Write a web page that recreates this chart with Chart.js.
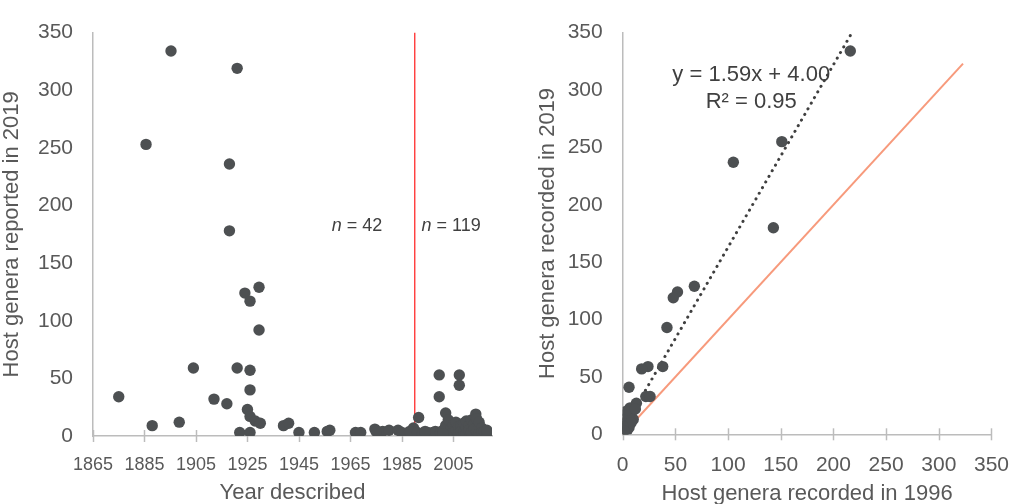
<!DOCTYPE html>
<html>
<head>
<meta charset="utf-8">
<script src="https://cdn.jsdelivr.net/npm/chart.js@4.4.1/dist/chart.umd.min.js"></script>
<style>
  body { margin: 0; background: #fff; }
  canvas { position: absolute; top: 0; }
  #left { left: 0; }
  #right { left: 515px; }
</style>
</head>
<body>
<canvas id="left" width="515" height="504"></canvas>
<canvas id="right" width="512" height="504"></canvas>
<script>
// left panel: year described vs host genera in 2019
const yearDescribed = [
  1875, 1885.6, 1888, 1895.3, 1898.5, 1904, 1912, 1917, 1918, 1918,
  1921, 1921, 1922, 1924, 1926, 1929.5, 1929.5, 1926, 1926, 1925,
  1926, 1928, 1930, 1926, 1939, 1941, 1945, 1951, 1956, 1957,
  1967, 1969, 1974.5, 1976.5, 1977.5, 1980, 1983.5, 1985, 1989.5, 1989.5,
  1988, 1975,
  1991.5, 1991, 1993, 1995, 1996, 1997, 1998, 1999.5, 1999.5, 2000,
  2001, 2002, 2002, 2003, 2003, 2004, 2004, 2005, 2005, 2006,
  2006, 2007.3, 2007.3, 2007, 2007, 2008, 2008, 2009, 2009, 2010,
  2010, 2010, 2011, 2011, 2012, 2012, 2013, 2013.7, 2013, 2014,
  2014, 2015, 2015, 2016, 2016, 2017, 2018, 2018, 2001, 1994
];
const hostsReported2019 = [
  34, 253, 9, 334, 12, 59, 32, 28, 236, 178,
  319, 59, 3, 124, 117, 129, 92, 57, 40, 23,
  17, 13, 11, 3, 9, 11, 3, 3, 4, 5,
  3, 3, 6, 3, 4, 5, 5, 3, 7, 3,
  4, 4,
  16, 3, 2, 3, 2, 3, 4, 53, 34, 3,
  5, 20, 9, 14, 3, 6, 2, 10, 3, 5,
  12, 53, 44, 8, 2, 9, 4, 11, 3, 7,
  13, 2, 9, 5, 14, 3, 10, 19, 6, 15,
  4, 12, 2, 7, 3, 4, 2, 5, 2, 4
];
const boundaryYear = 1990;
const yearTicks = [1865, 1885, 1905, 1925, 1945, 1965, 1985, 2005];
const countNotes = [
  { x: 1957.7, y: 182, n: '42' },
  { x: 1992.6, y: 182, n: '119' }
];

// right panel: 1996 vs 2019 host genera
const hosts1996 = [
  216, 151, 105, 143, 68, 52, 48, 42, 38, 24,
  18, 6, 22, 26, 13, 7, 2, 8, 10, 1,
  1, 0, 0, 2, 3, 4, 5, 6, 3, 0,
  1, 2, 4, 6, 8, 12, 0, 1
];
const hosts2019 = [
  334, 255, 237, 180, 129, 124, 119, 93, 59, 59,
  57, 41, 33, 33, 27, 23, 17, 17, 13, 10,
  5, 2, 0, 7, 4, 11, 8, 14, 20, 13,
  1, 9, 3, 6, 10, 22, 7, 3
];
const trendX = [0, 218];
const trendY = [4, 350.6];
const equalX = [0, 323];
const equalY = [0, 323];
const valueTicks = [0, 50, 100, 150, 200, 250, 300, 350];

const FONT = "'Liberation Sans', Arial, sans-serif";
const TXT = '#595959';
const AXIS = '#bcbcbc';
const DOT = '#4d5052';

const pts = (xs, ys) => xs.map((x, i) => ({ x, y: ys[i] }));

// Excel style tick marks crossing the x axis
const crossTicks = {
  id: 'crossTicks',
  beforeDatasetsDraw(chart) {
    const { ctx, scales: { x } } = chart;
    const y0 = chart.chartArea.bottom;
    ctx.save();
    ctx.strokeStyle = AXIS;
    ctx.lineWidth = 1.5;
    for (const t of x.ticks) {
      const px = Math.round(x.getPixelForValue(t.value)) + 0.5;
      ctx.beginPath();
      ctx.moveTo(px, y0 - 6);
      ctx.lineTo(px, y0 + 6);
      ctx.stroke();
    }
    ctx.restore();
  }
};

const notes = {
  id: 'notes',
  afterDatasetsDraw(chart, args, opts) {
    const { ctx, scales: { x, y } } = chart;
    ctx.save();
    ctx.fillStyle = opts.color || TXT;
    ctx.textBaseline = 'middle';
    for (const it of opts.items || []) {
      const px = x.getPixelForValue(it.x), py = y.getPixelForValue(it.y);
      if (it.italic) {
        ctx.textAlign = 'left';
        ctx.font = 'italic ' + it.size + 'px ' + FONT;
        ctx.fillText(it.italic, px, py);
        const w = ctx.measureText(it.italic).width;
        ctx.font = it.size + 'px ' + FONT;
        ctx.fillText(it.text, px + w, py);
      } else {
        ctx.textAlign = 'center';
        ctx.font = it.size + 'px ' + FONT;
        ctx.fillText(it.text, px, py);
      }
    }
    ctx.restore();
  }
};

function axes(o) {
  return {
    x: {
      type: 'linear', position: 'bottom', min: o.xmin, max: o.xmax,
      afterBuildTicks: s => { s.ticks = o.xticks.map(v => ({ value: v })); },
      afterFit: s => { s.height = o.xh; },
      grid: { display: false, drawTicks: false },
      border: { color: AXIS, width: 1.5 },
      ticks: { color: TXT, padding: 18, font: { family: FONT, size: o.xtick }, maxRotation: 0, autoSkip: false,
        callback: v => String(v) },
      title: { display: true, text: o.xtitle, color: TXT, padding: { top: 0, bottom: o.xtp },
        font: { family: FONT, size: 22, lineHeight: 1 } }
    },
    y: {
      type: 'linear', position: 'left', min: 0, max: 350,
      afterBuildTicks: s => { s.ticks = valueTicks.map(v => ({ value: v })); },
      afterFit: s => { s.width = o.yw; },
      grid: { display: false, drawTicks: false },
      border: { color: AXIS, width: 1.5 },
      ticks: { color: TXT, padding: 20, font: { family: FONT, size: 21 }, callback: v => String(v) },
      title: { display: true, text: o.ytitle, color: TXT, padding: { top: o.ytp, bottom: 0 },
        font: { family: FONT, size: 22, lineHeight: 1 } }
    }
  };
}

new Chart(document.getElementById('left'), {
  type: 'scatter',
  data: {
    datasets: [
      { data: pts(yearDescribed, hostsReported2019), backgroundColor: DOT, borderWidth: 0, pointRadius: 5.7 },
      { type: 'line', data: [{ x: boundaryYear, y: 0 }, { x: boundaryYear, y: 350 }],
        borderColor: '#ff1a1a', borderWidth: 1.2, pointRadius: 0, fill: false }
    ]
  },
  options: {
    responsive: false, animation: false, devicePixelRatio: 1,
    layout: { padding: { top: 23, right: 23, left: 0, bottom: 0 } },
    plugins: {
      legend: { display: false }, tooltip: { enabled: false },
      notes: { color: '#404040', items: countNotes.map(c => ({ x: c.x, y: c.y, italic: 'n', text: ' = ' + c.n, size: 18 })) }
    },
    scales: axes({ xmin: 1865, xmax: 2020, xticks: yearTicks, xh: 68, xtick: 18, xtitle: 'Year described', xtp: 0,
      yw: 93, ytitle: 'Host genera reported in 2019', ytp: 1 })
  },
  plugins: [crossTicks, notes]
});

new Chart(document.getElementById('right'), {
  type: 'scatter',
  data: {
    datasets: [
      { data: pts(hosts1996, hosts2019), backgroundColor: DOT, borderWidth: 0, pointRadius: 5.7 },
      { type: 'line', data: pts(trendX, trendY), borderColor: '#404040', borderWidth: 3,
        borderDash: [0.1, 6.4], borderCapStyle: 'round', pointRadius: 0, fill: false },
      { type: 'line', data: pts(equalX, equalY), borderColor: '#f79a7c', borderWidth: 2, pointRadius: 0, fill: false }
    ]
  },
  options: {
    responsive: false, animation: false, devicePixelRatio: 1,
    layout: { padding: { top: 31.7, right: 20.3, left: 0, bottom: 0 } },
    plugins: {
      legend: { display: false }, tooltip: { enabled: false },
      notes: { color: '#404040', items: [
        { x: 122, y: 313, text: 'y = 1.59x + 4.00', size: 22 },
        { x: 122, y: 289.4, text: 'R² = 0.95', size: 22 }
      ] }
    },
    scales: axes({ xmin: 0, xmax: 350, xticks: valueTicks, xh: 69.7, xtick: 21, xtitle: 'Host genera recorded in 1996', xtp: -1,
      yw: 107.7, ytitle: 'Host genera recorded in 2019', ytp: 22 })
  },
  plugins: [crossTicks, notes]
});
</script>
</body>
</html>
